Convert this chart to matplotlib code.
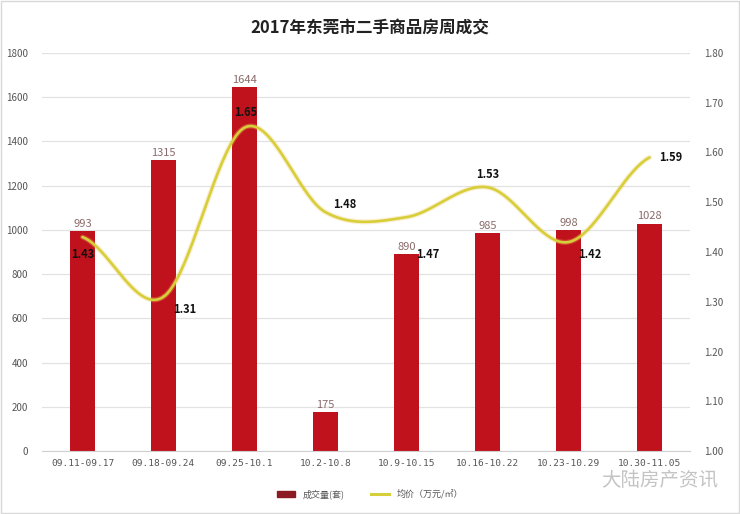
import numpy as np
import matplotlib
matplotlib.use("Agg")
import matplotlib.pyplot as plt
from matplotlib.patches import Rectangle
from matplotlib.lines import Line2D

plt.rcParams['font.family'] = ['Noto Sans CJK SC', 'DejaVu Sans']

categories = ["09.11-09.17", "09.18-09.24", "09.25-10.1", "10.2-10.8",
              "10.9-10.15", "10.16-10.22", "10.23-10.29", "10.30-11.05"]
volume = [993, 1315, 1644, 175, 890, 985, 998, 1028]
price = [1.43, 1.31, 1.65, 1.48, 1.47, 1.53, 1.42, 1.59]
left_ticks = [0, 200, 400, 600, 800, 1000, 1200, 1400, 1600, 1800]
right_ticks = [1.00, 1.10, 1.20, 1.30, 1.40, 1.50, 1.60, 1.70, 1.80]
title = "2017年东莞市二手商品房周成交"
legend_labels = ["成交量(套)", "均价（万元/㎡）"]

W, H = 740, 514
fig = plt.figure(figsize=(W / 100, H / 100), dpi=100)
fig.patch.set_facecolor("white")

ax = fig.add_axes([42 / W, 1 - 451 / H, 648 / W, 398 / H])
x = np.arange(len(categories))
bar_color = "#C0121C"
ax.bar(x, volume, width=0.31, color=bar_color, zorder=2)
ax.set_xlim(-0.5, len(categories) - 0.5)
ax.set_ylim(0, 1800)
ax.set_yticks(left_ticks)
ax.set_yticklabels([str(t) for t in left_ticks])
ax.set_xticks(x)
ax.set_xticklabels(categories)
ax.grid(axis="y", color="#E2E2E2", linewidth=0.9, zorder=0)
ax.set_axisbelow(True)
for s in ax.spines.values():
    s.set_visible(False)
ax.spines["bottom"].set_visible(True)
ax.spines["bottom"].set_color("#D0D0D0")
ax.tick_params(axis="y", length=0, pad=10, labelsize=7, labelcolor="#555555")
ax.tick_params(axis="x", length=0, pad=6, labelsize=6.8, labelcolor="#555555")
for lab in ax.get_xticklabels():
    lab.set_family(["DejaVu Sans Mono"])

for xi, v in zip(x, volume):
    ax.text(xi, v + 12, str(v), ha="center", va="bottom", fontsize=8,
            color="#8A6A6A", zorder=5)

ax2 = ax.twinx()
ax2.set_ylim(1.0, 1.8)
ax2.set_yticks(right_ticks)
ax2.set_yticklabels([f"{t:.2f}" for t in right_ticks])
ax2.tick_params(axis="y", length=0, pad=10, labelsize=7, labelcolor="#555555")
for s in ax2.spines.values():
    s.set_visible(False)

# smooth (Catmull-Rom) rendering through the data points
px = x.astype(float)
py = np.array(price)
pts_x, pts_y = [], []
n = len(px)
for i in range(n - 1):
    p0 = py[i - 1] if i > 0 else py[i]
    p1, p2 = py[i], py[i + 1]
    p3 = py[i + 2] if i + 2 < n else py[i + 1]
    t = np.linspace(0, 1, 40)
    yy = 0.5 * ((2 * p1) + (-p0 + p2) * t + (2 * p0 - 5 * p1 + 4 * p2 - p3) * t ** 2
                + (-p0 + 3 * p1 - 3 * p2 + p3) * t ** 3)
    pts_x.extend(px[i] + t)
    pts_y.extend(yy)
line_color = "#D6CF3A"
ax2.plot(pts_x, pts_y, color="#F5C85A", linewidth=3.6, alpha=0.3, zorder=3,
         solid_capstyle="round")
ax2.plot(pts_x, pts_y, color=line_color, linewidth=1.9, zorder=4,
         solid_capstyle="round")

offsets = [(0, -0.035, "center"), (0.12, -0.025, "left"), (0.02, 0.03, "center"),
           (0.1, 0.015, "left"), (0.12, -0.075, "left"), (0, 0.025, "center"),
           (0.12, -0.025, "left"), (0.12, 0.0, "left")]
for xi, v, (dx, dy, ha) in zip(x, price, offsets):
    ax2.text(xi + dx, v + dy, f"{v:.2f}", ha=ha, va="center", fontsize=8,
             fontweight="bold", color="#111111", zorder=6)

fig.text(370 / W, 1 - 28 / H, title, ha="center", va="center", fontsize=12,
         fontweight="bold", color="#222222")

# legend
handles = [Rectangle((0, 0), 1, 1, color="#8B1A22"),
           Line2D([0], [0], color=line_color, linewidth=2.2)]
fig.legend(handles, legend_labels, loc="center", bbox_to_anchor=(370 / W, 1 - 494 / H),
           ncol=2, frameon=False, fontsize=6.5, handlelength=2.0,
           handleheight=0.6, columnspacing=3.0, labelcolor="#555555")

fig.text(718 / W, 1 - 481 / H, "大陆房产资讯", ha="right", va="center", fontsize=14,
         color="#C4C4C4")

fig.patches.append(Rectangle((0.001, 0.001), 0.997, 0.997, transform=fig.transFigure,
                             fill=False, edgecolor="#D8D8D8", linewidth=1))

fig.savefig("out.png", dpi=100)
